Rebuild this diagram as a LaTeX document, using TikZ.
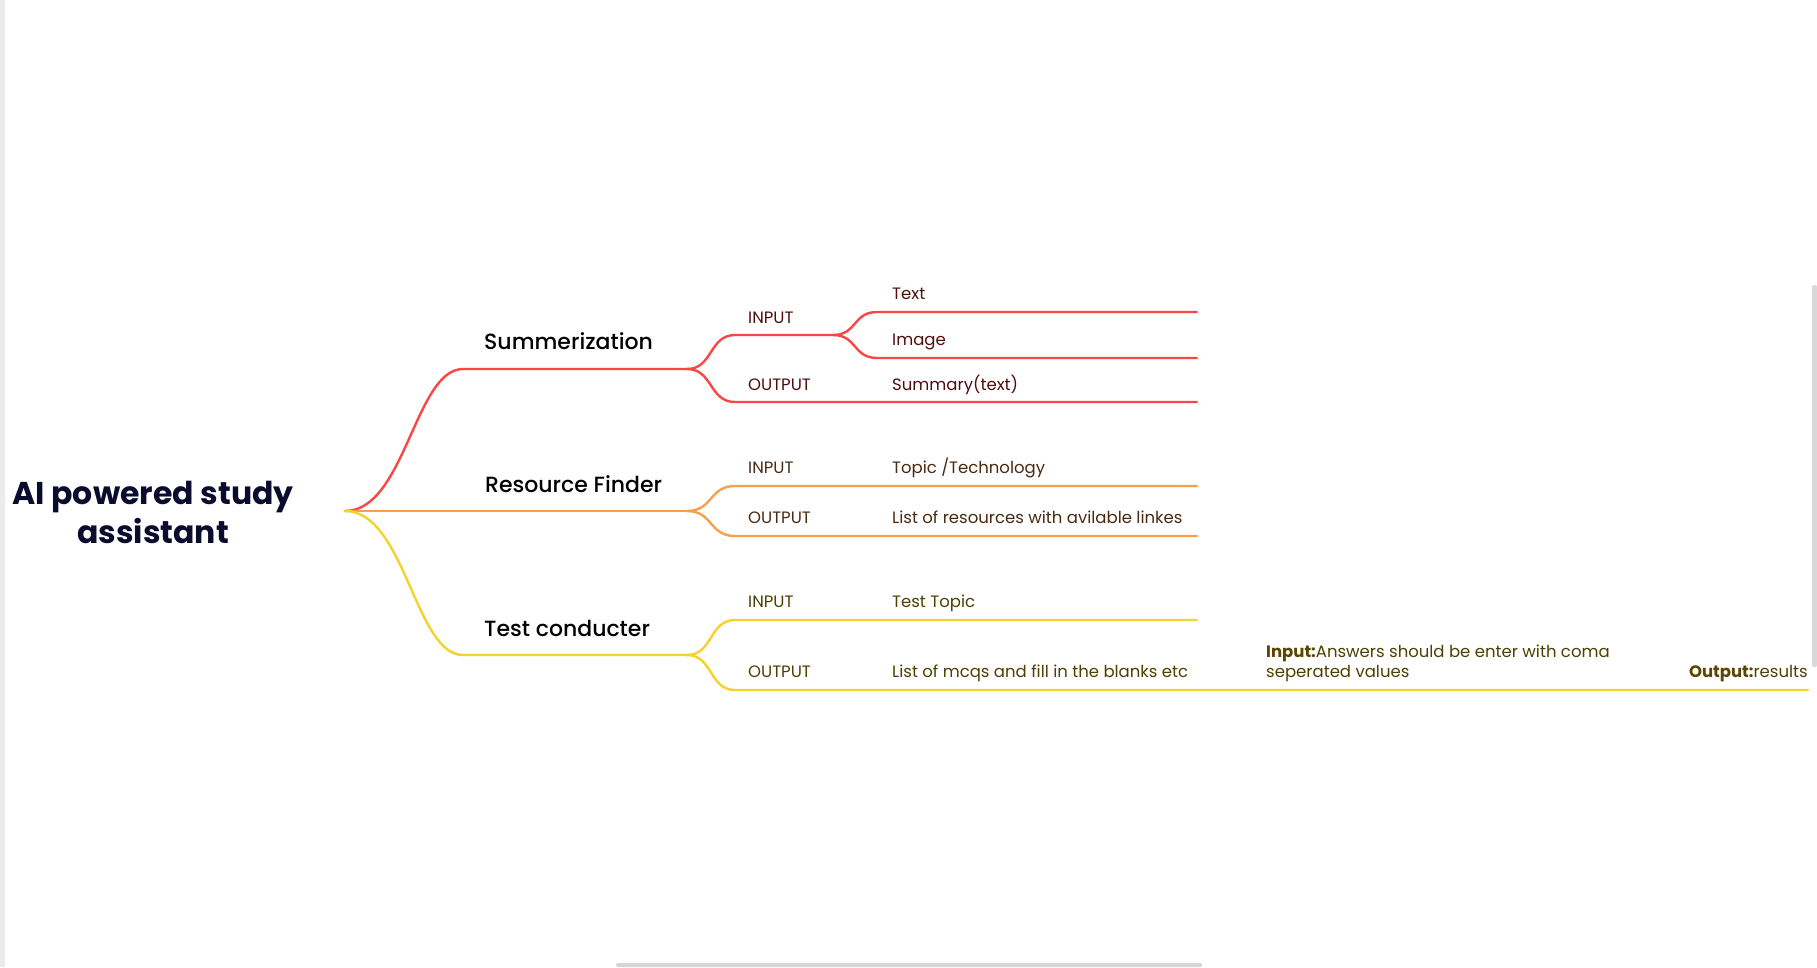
\documentclass[tikz,border=0pt]{standalone}
\usepackage{fontspec}
\setmainfont{Poppins}
\newfontfamily\medfont{Poppins Medium}
\definecolor{cred}{HTML}{F94747}
\definecolor{corange}{HTML}{F7A04F}
\definecolor{cyellow}{HTML}{F5D22C}
\definecolor{tred}{HTML}{4F0E0E}
\definecolor{torange}{HTML}{4A2A10}
\definecolor{tyellow}{HTML}{4D4000}
\definecolor{tinput}{HTML}{5A4600}
\definecolor{troot}{HTML}{0B0B2E}
\tikzset{
  branch/.style={line width=2.4bp, line cap=round},
  rootlbl/.style={align=center, inner sep=0pt, text=troot, font=\bfseries\fontsize{31.5bp}{39bp}\selectfont},
  lvlone/.style={anchor=base west, inner sep=0pt, text=black, font=\medfont\fontsize{22bp}{26bp}\selectfont},
  lvltwo/.style={anchor=base west, inner sep=0pt, font=\fontsize{16.5bp}{19.5bp}\selectfont},
  scrollbar/.style={fill=#1, draw=none}
}
\begin{document}
\begin{tikzpicture}[x=1bp,y=-1bp]
\useasboundingbox (0,0) rectangle (1817,967);
\fill[white] (0,0) rectangle (1817,967);
% screen chrome
\fill[scrollbar={black!8}] (0,0) rectangle (5,967);
\fill[scrollbar={black!15}, rounded corners=2bp] (1812,285) rectangle (1817,667);
\fill[scrollbar={black!16}, rounded corners=2bp] (616,963) rectangle (1202,967);

% root
\node[rootlbl] (root) at (153,512) {AI powered study\\assistant};
\coordinate (R) at (345,511);

% level 1 coordinates
\coordinate (s1) at (463,369);  \coordinate (s2) at (687,369);
\coordinate (r2) at (687,511);
\coordinate (t1) at (463,655);  \coordinate (t2) at (687,655);

% Summerization subtree coordinates
\coordinate (si1) at (735,335); \coordinate (si2) at (833,335);
\coordinate (so1) at (735,402); \coordinate (so2) at (1197,402);
\coordinate (st1) at (877,312); \coordinate (st2) at (1197,312);
\coordinate (sm1) at (877,358); \coordinate (sm2) at (1197,358);
% Resource subtree
\coordinate (ri1) at (735,486); \coordinate (ri2) at (1197,486);
\coordinate (ro1) at (735,536); \coordinate (ro2) at (1197,536);
% Test subtree
\coordinate (ti1) at (735,620); \coordinate (ti2) at (1197,620);
\coordinate (to1) at (735,690); \coordinate (to2) at (1808,690);

% connectors
\draw[branch, cred] (R) .. controls +(60,0) and +(-48,0) .. (s1) -- (s2);
\draw[branch, corange] (R) -- (r2);
\draw[branch, cyellow] (R) .. controls +(60,0) and +(-48,0) .. (t1) -- (t2);

\draw[branch, cred] (s2) .. controls +(26,0) and +(-26,0) .. (si1) -- (si2);
\draw[branch, cred] (s2) .. controls +(26,0) and +(-26,0) .. (so1) -- (so2);
\draw[branch, cred] (si2) .. controls +(24,0) and +(-24,0) .. (st1) -- (st2);
\draw[branch, cred] (si2) .. controls +(24,0) and +(-24,0) .. (sm1) -- (sm2);

\draw[branch, corange] (r2) .. controls +(26,0) and +(-26,0) .. (ri1) -- (ri2);
\draw[branch, corange] (r2) .. controls +(26,0) and +(-26,0) .. (ro1) -- (ro2);

\draw[branch, cyellow] (t2) .. controls +(26,0) and +(-26,0) .. (ti1) -- (ti2);
\draw[branch, cyellow] (t2) .. controls +(26,0) and +(-26,0) .. (to1) -- (to2);

% level 1 labels
\node[lvlone] (summ) at (484,349) {Summerization};
\node[lvlone] (res) at (485,492) {Resource Finder};
\node[lvlone] (test) at (484,636) {Test conducter};

% Summerization labels
\node[lvltwo, text=tred] (sin) at (748,323) {INPUT};
\node[lvltwo, text=tred] (sout) at (748,390) {OUTPUT};
\node[lvltwo, text=tred] (stext) at (892,299) {Text};
\node[lvltwo, text=tred] (simg) at (892,345) {Image};
\node[lvltwo, text=tred] (ssum) at (892,390) {Summary(text)};

% Resource labels
\node[lvltwo, text=torange] (rin) at (748,473) {INPUT};
\node[lvltwo, text=torange] (rout) at (748,523) {OUTPUT};
\node[lvltwo, text=torange] (rtopic) at (892,473) {Topic /Technology};
\node[lvltwo, text=torange] (rlist) at (892,523) {List of resources with avilable linkes};

% Test labels
\node[lvltwo, text=tyellow] (tin) at (748,607) {INPUT};
\node[lvltwo, text=tyellow] (tout) at (748,677) {OUTPUT};
\node[lvltwo, text=tyellow] (ttopic) at (892,607) {Test Topic};
\node[lvltwo, text=tyellow] (tlist) at (892,677) {List of mcqs and fill in the blanks etc};
\node[lvltwo, text=tyellow] (tnote) at (1266,657) {\textcolor{tinput}{\textbf{Input:}}Answers should be enter with coma};
\node[lvltwo, text=tyellow] (tnote2) at (1266,677) {seperated values};
\node[lvltwo, text=tyellow, anchor=base east] (tres) at (1808,677) {\textcolor{tinput}{\textbf{Output:}}results};
\end{tikzpicture}
\end{document}
